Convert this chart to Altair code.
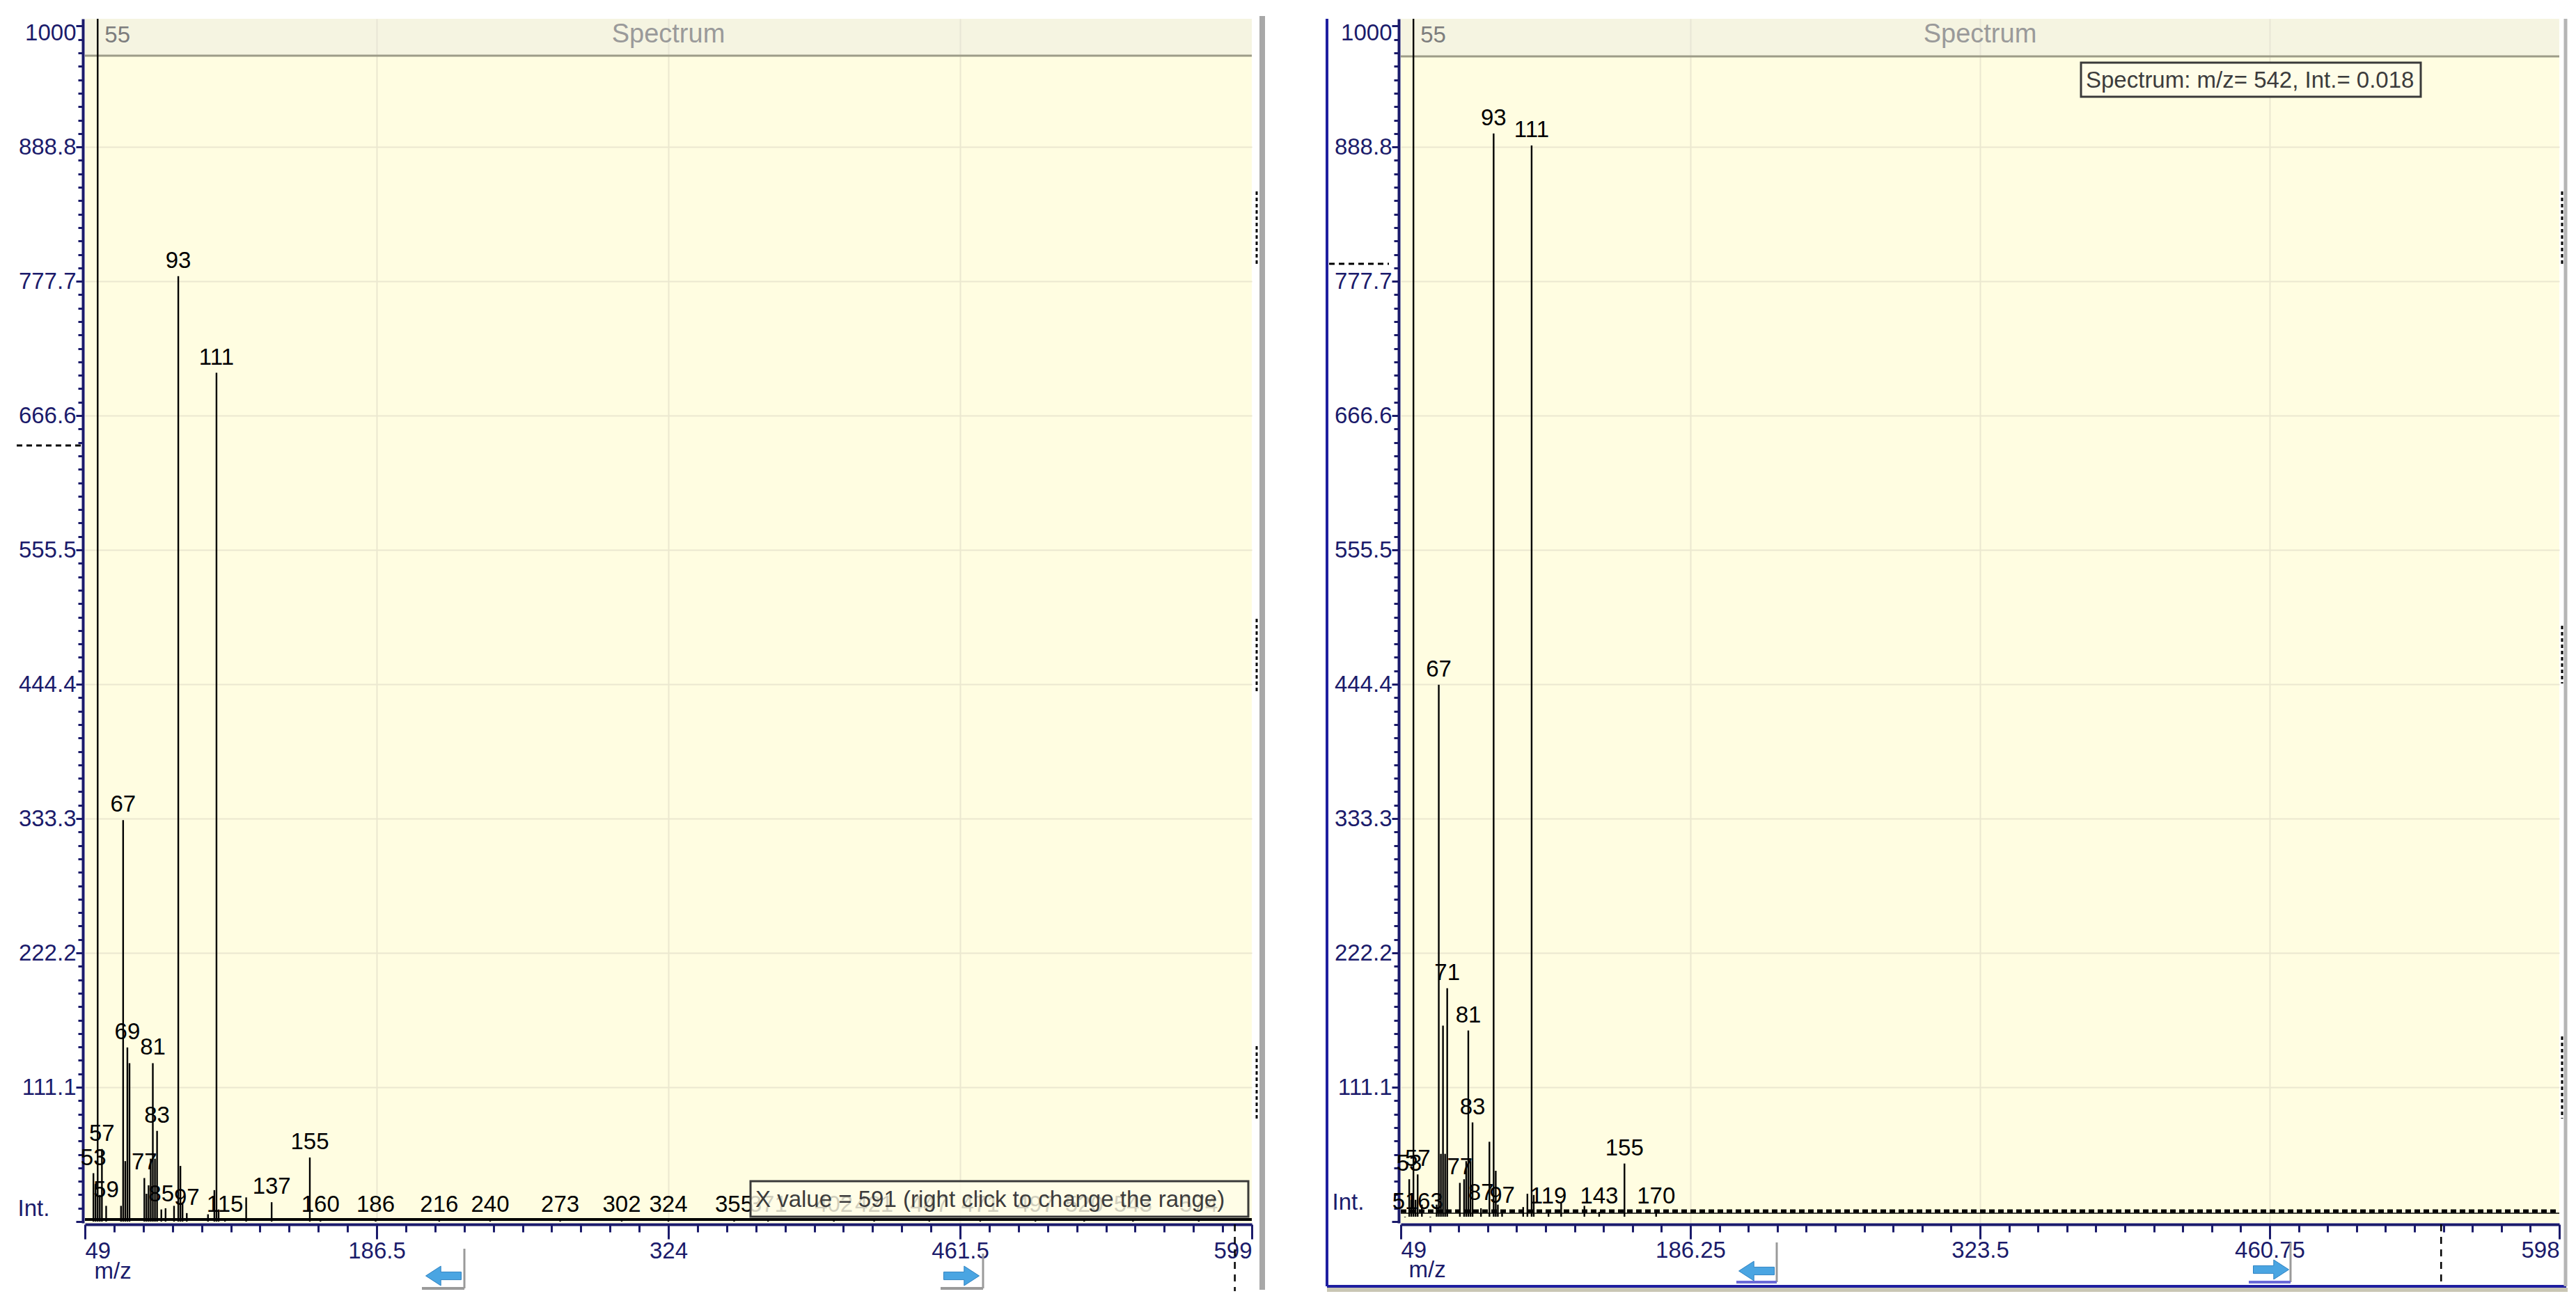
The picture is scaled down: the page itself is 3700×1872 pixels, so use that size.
import altair as alt
import pandas as pd

# ---------------- data ----------------
left_mz = [53, 54, 55, 56, 57, 59, 66, 67, 68, 69, 70, 77, 78, 79, 80, 81, 82, 83, 85, 87,
           91, 93, 94, 95, 97, 107, 110, 111, 112, 115, 125, 137, 155, 160, 186, 216, 240,
           273, 302, 324, 355, 371, 402, 421, 447, 471, 497, 520, 543, 574]
left_int = [40, 31, 1000, 22, 60, 13, 13, 332, 50, 144, 131, 36, 23, 30, 52, 131, 52, 75, 10, 11,
            13, 782, 46, 15, 7, 6, 26, 702, 10, 1, 20, 16, 53, 1, 1, 1, 1,
            1, 1, 1, 1, 1, 1, 1, 1, 1, 1, 1, 1, 1]
left_lab = ['53', '', '', '', '57', '59', '', '67', '', '69', '', '77', '', '', '', '81', '', '83', '85', '',
            '', '93', '', '', '97', '', '', '111', '', '115', '', '137', '155', '160', '186', '216', '240',
            '273', '302', '324', '355', '371', '402', '421', '447', '471', '497', '520', '543', '574']

right_mz = [51, 53, 54, 55, 56, 57, 59, 63, 66, 67, 68, 69, 70, 71, 77, 79, 80, 81, 82, 83,
            87, 91, 93, 94, 95, 97, 107, 109, 111, 112, 119, 125, 136, 143, 155, 170]
right_int = [3.5, 35, 18, 1000, 18, 39, 14, 3.5, 14, 444, 56, 162, 56, 193, 32, 35, 50, 158, 50, 82,
             11, 66, 900, 42, 14, 8.5, 12, 23, 890, 22, 8, 16, 13, 8, 48, 8]
right_lab = ['51', '53', '', '', '', '57', '', '63', '', '67', '', '', '', '71', '77', '', '', '81', '', '83',
             '87', '', '93', '', '', '97', '', '', '111', '', '119', '', '', '143', '155', '170']

header_peak = [55]
header_label = ['55']
cursor_left = [591]
cursor_right = [542]
left_x_max = 599
right_x_max = 598
box_left_text = "X value = 591 (right click to change the range)"
box_right_text = "Spectrum: m/z= 542, Int.= 0.018"
panel_title = "Spectrum"

FONT = "Liberation Sans, Arial, Helvetica, sans-serif"
NAVY = "#1b1b6b"
BG = "#fffde1"
GRID = "#ebe8d0"


def one():
    return alt.Chart(pd.DataFrame({"k": [0]}))


def panel(mz, inten, lab, cursor, x_max, W, H, y_lo, y_hi, P):
    x0 = 49
    major = (x_max - x0) / 4
    step = major / 10
    xvals = [round(x0 + k * step, 4) for k in range(41)]
    xmaj = f"abs((datum.value - {x0}) / {major} - round((datum.value - {x0}) / {major})) < 0.001"
    xaxis = alt.Axis(
        values=xvals,
        labelExpr=f"({xmaj}) ? toString(datum.value) : ''",
        labelFlush=True, labelOverlap=False,
        labelFont=FONT, labelFontSize=33, labelColor=NAVY, labelPadding=P["xlabpad"],
        tickSize={"condition": {"test": xmaj, "value": 21}, "value": 11},
        tickColor=NAVY, tickWidth=3,
        domainColor=NAVY, domainWidth=4, offset=2,
        grid=True, gridColor=GRID, gridWidth=2,
        gridOpacity={"condition": {"test": f"({xmaj}) && datum.value > {x0 + 1} && datum.value < {x_max - 1}",
                                   "value": 1}, "value": 0},
        title="m/z", titleFont=FONT, titleFontSize=33, titleFontWeight="normal", titleColor=NAVY,
        titleX=P["mzx"], titleY=P["mzy"], titleAlign="left", titleBaseline="middle",
    )
    yvals = [round(11.11 * j, 2) for j in range(90)]
    ymaj = "abs(datum.value / 111.1 - round(datum.value / 111.1)) < 0.001"
    yaxis = alt.Axis(
        values=yvals,
        labelExpr=f"datum.value > 980 ? '1000' : ((({ymaj}) && datum.value > 1) ? format(datum.value, '.1f') : '')",
        labelOverlap=False, labelFont=FONT, labelFontSize=33, labelColor=NAVY, labelPadding=0,
        labelOffset={"condition": {"test": "datum.value > 980", "value": 10}, "value": 0},
        tickSize={"condition": {"test": f"({ymaj}) || datum.value > 980", "value": 10}, "value": 7},
        tickColor=NAVY, tickWidth=3,
        domainColor=NAVY, domainWidth=4, offset=3,
        grid=True, gridColor=GRID, gridWidth=2,
        gridOpacity={"condition": {"test": f"({ymaj}) && datum.value > 1 && datum.value < 980", "value": 1},
                     "value": 0},
        title="Int.", titleAngle=0, titleFont=FONT, titleFontSize=33, titleFontWeight="normal",
        titleColor=NAVY, titleX=P["intx"], titleY=P["inty"], titleAlign="left", titleBaseline="middle",
    )
    df = pd.DataFrame({"mz": mz, "int": inten, "lab": lab})
    X = alt.X("mz:Q", scale=alt.Scale(domain=[x0, x_max], nice=False, zero=False), axis=xaxis)
    Y = alt.Y("int:Q", scale=alt.Scale(domain=[y_lo, y_hi], nice=False, zero=False), axis=yaxis)

    hdr = P["hdr"]
    layers = []
    layers.append(one().mark_rect(fill="#e2e2e2", opacity=0.35).encode(
        x=alt.value(0), x2=alt.value(W), y=alt.value(0), y2=alt.value(hdr)))
    layers.append(one().mark_rule(color="#9d9c88", strokeWidth=3).encode(
        x=alt.value(0), x2=alt.value(W), y=alt.value(hdr)))
    layers.append(one().mark_text(text=panel_title, font=FONT, fontSize=38, color="#9a9a9a",
                                  baseline="middle").encode(x=alt.value(W / 2), y=alt.value(hdr / 2 - 4)))
    # peaks
    layers.append(alt.Chart(df).mark_rule(color="black", strokeWidth=2.4, clip=True).encode(
        x=X, y=Y, y2=alt.datum(P["y0"])))
    # baseline
    if P["dashed_base"]:
        layers.append(one().mark_rule(color="black", strokeWidth=5, strokeDash=[8, 5]).encode(
            x=alt.value(0), x2=alt.value(W), y=alt.value(P["base"])))
        layers.append(one().mark_rule(color="black", strokeWidth=1.5).encode(
            x=alt.value(0), x2=alt.value(W), y=alt.value(P["base"] + 3)))
    else:
        layers.append(one().mark_rule(color="black", strokeWidth=4).encode(
            x=alt.value(0), x2=alt.value(W), y=alt.value(P["base"])))
    # peak labels
    layers.append(alt.Chart(df).transform_filter("datum.lab != ''").mark_text(
        font=FONT, fontSize=33, color="black", baseline="alphabetic", dy=-12).encode(
        x=X, y=Y, text="lab:N"))
    # header label of base peak
    layers.append(alt.Chart(pd.DataFrame({"mz": header_peak, "lab": header_label})).mark_text(
        font=FONT, fontSize=33, color="#7d7d7d", align="left", baseline="middle", dx=10).encode(
        x=X, y=alt.value(hdr / 2 - 3), text="lab:N"))
    # cursor (dashed vertical below axis)
    layers.append(alt.Chart(pd.DataFrame({"mz": cursor})).mark_rule(
        color="black", strokeWidth=2.5, strokeDash=[10, 8]).encode(
        x=X, y=alt.value(P["cur_y1"]), y2=alt.value(P["cur_y2"])))
    # dashed marker on the y axis
    layers.append(one().mark_rule(color="black", strokeWidth=3, strokeDash=[8, 6]).encode(
        x=alt.value(P["mark_x1"]), x2=alt.value(P["mark_x2"]), y=alt.value(P["mark_y"])))
    # scroll grips
    for (a, b) in P["grips"]:
        layers.append(one().mark_rule(color="black", strokeWidth=3, strokeDash=[5, 4]).encode(
            x=alt.value(P["grip_x"]), y=alt.value(a), y2=alt.value(b)))
    # frames
    for fr in P["frames"]:
        layers.append(one().mark_rule(color=fr["c"], strokeWidth=fr["w"]).encode(
            x=alt.value(fr["x1"]), x2=alt.value(fr["x2"]), y=alt.value(fr["y1"]), y2=alt.value(fr["y2"])))
    # text box
    bx = P["box"]
    layers.append(one().mark_rect(fill="#fffde8", fillOpacity=bx["op"], stroke="#3a3a3a", strokeWidth=3).encode(
        x=alt.value(bx["x1"]), x2=alt.value(bx["x2"]), y=alt.value(bx["y1"]), y2=alt.value(bx["y2"])))
    layers.append(one().mark_text(text=bx["text"], font=FONT, fontSize=33, color="#3c3c3c",
                                  align="left", baseline="middle").encode(
        x=alt.value(bx["x1"] + 7), y=alt.value((bx["y1"] + bx["y2"]) / 2 + 1)))
    # scroll arrows
    left_arrow = "M -1 0 L -0.15 -0.55 L -0.15 -0.22 L 1 -0.22 L 1 0.22 L -0.15 0.22 L -0.15 0.55 Z"
    right_arrow = "M 1 0 L 0.15 -0.55 L 0.15 -0.22 L -1 -0.22 L -1 0.22 L 0.15 0.22 L 0.15 0.55 Z"
    for ar in P["arrows"]:
        shape = left_arrow if ar["dir"] == "l" else right_arrow
        layers.append(one().mark_point(shape=shape, filled=True, fill="#4aa5e2", stroke="#2d82c2",
                                       strokeWidth=1, size=2600, opacity=1).encode(
            x=alt.value(ar["cx"]), y=alt.value(ar["cy"])))
        layers.append(one().mark_rule(color=ar["fc"], strokeWidth=3).encode(
            x=alt.value(ar["vx"]), y=alt.value(ar["vy1"]), y2=alt.value(ar["vy2"])))
        layers.append(one().mark_rule(color=ar["bc"], strokeWidth=4).encode(
            x=alt.value(ar["bx1"]), x2=alt.value(ar["bx2"]), y=alt.value(ar["vy2"])))

    return alt.layer(*layers).properties(width=W, height=H)


WL, HL = 1676, 1730
WR, HR = 1664, 1730

PL = dict(
    hdr=53, base=1725, y0=0, xlabpad=1, mzx=13, mzy=67, intx=-94, inty=1709,
    dashed_base=False, cur_y1=1732, cur_y2=1828, mark_x1=-98, mark_x2=-4, mark_y=613,
    grip_x=WL + 7, grips=[(248, 355), (862, 968), (1476, 1582)],
    frames=[dict(c="#a8a8a8", w=8, x1=WL + 15, x2=WL + 15, y1=-4, y2=1826)],
    box=dict(x1=956, x2=1671, y1=1670, y2=1721, op=0.82, text=box_left_text),
    arrows=[
        dict(dir="l", cx=515, cy=1806, fc="#9a9a9a", bc="#9a9a9a", vx=545, vy1=1767, vy2=1824, bx1=484, bx2=545),
        dict(dir="r", cx=1259, cy=1806, fc="#9a9a9a", bc="#9a9a9a", vx=1290, vy1=1774, vy2=1824, bx1=1229, bx2=1290),
    ],
)

PR = dict(
    hdr=54, base=1713, y0=4, xlabpad=0, mzx=11, mzy=65, intx=-96, inty=1700,
    dashed_base=True, cur_y1=1732, cur_y2=1821, mark_x1=-103, mark_x2=-17, mark_y=352,
    grip_x=WR + 4, grips=[(248, 355), (872, 955), (1462, 1580)],
    frames=[
        dict(c="#1f1fa0", w=4, x1=-106, x2=-106, y1=0, y2=1821),
        dict(c="#1f1fa0", w=4, x1=-106, x2=WR + 10, y1=1821, y2=1821),
        dict(c="#c9c6b4", w=6, x1=-106, x2=WR + 12, y1=1826, y2=1826),
        dict(c="#b5b5b5", w=5, x1=WR + 9, x2=WR + 9, y1=0, y2=1821),
    ],
    box=dict(x1=977, x2=1465, y1=63, y2=112, op=1.0, text=box_right_text),
    arrows=[
        dict(dir="l", cx=511, cy=1799, fc="#9a9a9a", bc="#6a6ad8", vx=540, vy1=1758, vy2=1815, bx1=482, bx2=540),
        dict(dir="r", cx=1250, cy=1797, fc="#9a9a9a", bc="#6a6ad8", vx=1278, vy1=1758, vy2=1815, bx1=1218, bx2=1278),
    ],
)

left = panel(left_mz, left_int, left_lab, cursor_left, left_x_max, WL, HL, -1.15, 994.8, PL)
right = panel(right_mz, right_int, right_lab, cursor_right, right_x_max, WR, HR, -1.15, 994.8, PR)

chart = alt.hconcat(left, right, spacing=214, bounds="flush").properties(
    padding={"left": 14, "top": 11, "right": 0, "bottom": 0}
).configure_view(stroke=None, fill=BG)

chart.save("out.html", embed_options={"renderer": "svg", "actions": False})
